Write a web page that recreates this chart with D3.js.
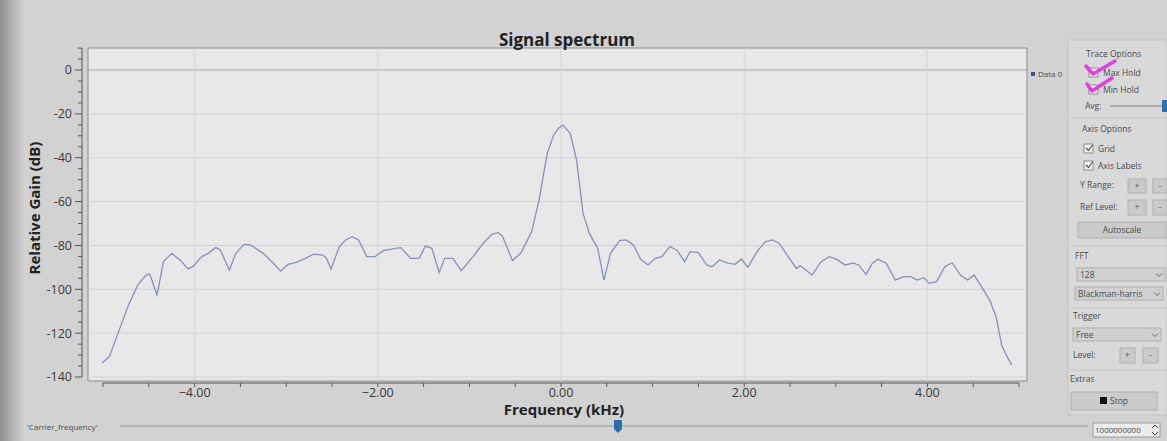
<!DOCTYPE html>
<html>
<head>
<meta charset="utf-8">
<script src="https://cdn.jsdelivr.net/npm/d3@7"></script>
<style>
  body { margin: 0; background: #d2d2d2; }
  svg { display: block; font-family: "Open Sans", "Noto Sans", sans-serif; }
  .tick-label { font-size: 12.5px; fill: #3a3a3a; }
  .panel-text { font-size: 8.5px; fill: #4a4a4a; }
</style>
</head>
<body>
<svg id="chart" width="1167" height="441"></svg>
<script>
// Spectrum trace (kHz, dB)
var freqKHz = [
  -5.01, -4.93, -4.83, -4.72, -4.62, -4.53, -4.49, -4.41, -4.34, -4.25,
  -4.16, -4.07, -4.02, -3.92, -3.85, -3.77, -3.72, -3.62, -3.55, -3.46,
  -3.39, -3.25, -3.14, -3.06, -2.98, -2.89, -2.79, -2.70, -2.60, -2.56,
  -2.51, -2.42, -2.35, -2.28, -2.21, -2.12, -2.03, -1.94, -1.84, -1.75,
  -1.64, -1.55, -1.48, -1.41, -1.33, -1.27, -1.18, -1.09, -0.96, -0.85,
  -0.75, -0.69, -0.64, -0.53, -0.44, -0.32, -0.24, -0.15, -0.08, -0.03,
   0.02,  0.10,  0.17,  0.24,  0.31,  0.40,  0.47,  0.54,  0.64,  0.71,
   0.79,  0.87,  0.95,  1.03,  1.10,  1.19,  1.27,  1.35,  1.41,  1.50,
   1.59,  1.65,  1.73,  1.82,  1.90,  1.97,  2.04,  2.14,  2.23,  2.31,
   2.38,  2.48,  2.57,  2.61,  2.74,  2.84,  2.93,  3.02,  3.10,  3.19,
   3.25,  3.33,  3.40,  3.46,  3.55,  3.65,  3.74,  3.82,  3.89,  3.96,
   4.02,  4.10,  4.19,  4.27,  4.36,  4.44,  4.51,  4.59,  4.68,  4.75,
   4.81,  4.87,  4.92
];
var gainDb = [
  -133.6, -130.7, -119.3, -107.0, -98.0, -93.5, -93.0, -102.6, -87.4, -83.6,
  -86.6, -90.7, -89.7, -85.1, -83.6, -81.0, -82.0, -91.2, -83.6, -79.5,
  -79.8, -83.6, -88.1, -91.7, -88.6, -87.7, -85.9, -84.0, -84.4, -85.9,
  -90.7, -80.5, -77.5, -76.0, -77.5, -85.1, -85.1, -82.4, -81.6, -81.0,
  -85.9, -85.9, -80.3, -81.3, -92.3, -85.9, -85.9, -91.5, -85.1, -79.0,
  -74.8, -74.2, -75.7, -86.9, -83.6, -73.7, -59.3, -38.0, -29.6, -26.6,
  -25.1, -28.9, -41.0, -65.3, -74.5, -81.3, -95.8, -83.6, -77.8, -77.5,
  -79.8, -86.3, -88.9, -85.9, -85.1, -80.5, -82.4, -87.4, -82.8, -83.3,
  -88.9, -89.7, -86.6, -88.1, -88.6, -86.2, -90.0, -82.8, -78.3, -77.5,
  -79.0, -85.1, -90.5, -89.2, -93.5, -87.4, -85.1, -86.6, -88.9, -88.1,
  -88.9, -93.2, -88.1, -86.3, -88.1, -95.8, -94.2, -94.2, -95.8, -94.7,
  -97.3, -96.5, -89.7, -87.9, -93.5, -95.8, -93.5, -98.8, -104.9, -112.5,
  -125.4, -130.7, -134.5
];

var xDomain = [-5, 5];
var yDomain = [-140, 10];
var xMajorTicks = [-4, -2, 0, 2, 4];
var xMinorTicks = d3.range(-5, 5.01, 0.5);
var yMajorTicks = [-140, -120, -100, -80, -60, -40, -20, 0];
var yMinorTicks = d3.range(-140, 10.01, 5);

var titleText = 'Signal spectrum';
var xLabelText = 'Frequency (kHz)';
var yLabelText = 'Relative Gain (dB)';
var legendName = 'Data 0';
var sliderName = "'Carrier_frequency'";
var sliderValue = '1000000000';

var svg = d3.select('#chart');
var W = 1167, H = 441;

// Canvas area of the Qwt plot
var canvas = {left: 88, right: 1027, top: 48, bottom: 381};

var x = d3.scaleLinear().domain(xDomain).range([103, 1019]);
var y = d3.scaleLinear().domain(yDomain).range([377, 48.1]);

// left edge of the photo is darker
var grad = svg.append('defs').append('linearGradient')
    .attr('id', 'edge').attr('x1', 0).attr('x2', 1);
grad.append('stop').attr('offset', 0).attr('stop-color', '#8e8e8e');
grad.append('stop').attr('offset', 1).attr('stop-color', '#d2d2d2');
svg.append('rect').attr('x', 0).attr('y', 0).attr('width', 24).attr('height', H)
    .attr('fill', 'url(#edge)');

svg.append('rect')
    .attr('x', canvas.left).attr('y', canvas.top)
    .attr('width', canvas.right - canvas.left)
    .attr('height', canvas.bottom - canvas.top)
    .attr('fill', '#e8e8e8')
    .attr('stroke', '#8c8c8c')
    .attr('stroke-width', 1);

// grid
svg.append('g').selectAll('line').data(yMajorTicks).enter().append('line')
    .attr('x1', canvas.left).attr('x2', canvas.right)
    .attr('y1', function(d) { return y(d); })
    .attr('y2', function(d) { return y(d); })
    .attr('stroke', function(d) { return d === 0 ? '#a6a6a6' : '#d2d2d2'; })
    .attr('stroke-width', 1);
svg.append('g').selectAll('line').data(xMajorTicks).enter().append('line')
    .attr('x1', function(d) { return x(d); })
    .attr('x2', function(d) { return x(d); })
    .attr('y1', canvas.top).attr('y2', canvas.bottom)
    .attr('stroke', '#d4d4d4')
    .attr('stroke-width', 1);

// x axis
var xAxis = svg.append('g').attr('transform', 'translate(0,383)');
xAxis.append('line').attr('x1', x(xDomain[0])).attr('x2', x(xDomain[1]))
    .attr('stroke', '#555');
xAxis.selectAll('.minor').data(xMinorTicks).enter().append('line')
    .attr('x1', function(d) { return x(d); })
    .attr('x2', function(d) { return x(d); })
    .attr('y1', 0).attr('y2', 4)
    .attr('stroke', '#555');
xAxis.selectAll('text').data(xMajorTicks).enter().append('text')
    .attr('class', 'tick-label')
    .attr('x', function(d) { return x(d); })
    .attr('y', 14)
    .attr('text-anchor', 'middle')
    .text(function(d) { return d3.format('.2f')(d); });

// y axis
var yAxis = svg.append('g').attr('transform', 'translate(82,0)');
yAxis.append('line').attr('y1', y(yDomain[0])).attr('y2', y(yDomain[1]))
    .attr('stroke', '#555');
yAxis.selectAll('.minor').data(yMinorTicks).enter().append('line')
    .attr('y1', function(d) { return y(d); })
    .attr('y2', function(d) { return y(d); })
    .attr('x1', function(d) { return d % 20 === 0 ? -7 : -4; })
    .attr('x2', 0)
    .attr('stroke', '#555');
yAxis.selectAll('text').data(yMajorTicks).enter().append('text')
    .attr('class', 'tick-label')
    .attr('x', -10)
    .attr('y', function(d) { return y(d); })
    .attr('dy', '0.35em')
    .attr('text-anchor', 'end')
    .text(function(d) { return d; });

// the trace
var points = freqKHz.map(function(f, i) { return [f, gainDb[i]]; });
svg.append('path')
    .datum(points)
    .attr('fill', 'none')
    .attr('stroke', '#8790bb')
    .attr('stroke-width', 1.3)
    .attr('d', d3.line()
        .x(function(d) { return x(d[0]); })
        .y(function(d) { return y(d[1]); }));

// titles
svg.append('text').attr('x', 567).attr('y', 46)
    .attr('text-anchor', 'middle')
    .style('font-size', '17px').style('font-weight', 'bold').style('fill', '#222')
    .text(titleText);
svg.append('text').attr('x', 564).attr('y', 415)
    .attr('text-anchor', 'middle')
    .style('font-size', '15px').style('font-weight', 'bold').style('fill', '#222')
    .text(xLabelText);
svg.append('text')
    .attr('transform', 'translate(40,208) rotate(-90)')
    .attr('text-anchor', 'middle')
    .style('font-size', '15px').style('font-weight', 'bold').style('fill', '#222')
    .text(yLabelText);

/**
 * Control panel on the right, drawn with a few small helpers.
 */
var panel = svg.append('g');
panel.append('rect').attr('x', 1068).attr('y', 40).attr('width', 99).attr('height', 375)
    .attr('fill', '#d9d9d9').attr('stroke', '#c2c2c2');

function label(px, py, txt) {
  panel.append('text').attr('class', 'panel-text').attr('x', px).attr('y', py).text(txt);
}
function checkbox(px, py, txt, ticked) {
  panel.append('rect').attr('x', px).attr('y', py - 8).attr('width', 9).attr('height', 9)
      .attr('fill', '#f2f2f2').attr('stroke', '#777').attr('stroke-width', 0.8);
  if (ticked) {
    panel.append('path')
        .attr('d', 'M' + (px + 2) + ',' + (py - 4) + 'l2.5,2.5l4,-5.5')
        .attr('fill', 'none').attr('stroke', '#444').attr('stroke-width', 1.1);
  }
  label(px + 14, py, txt);
}
function button(px, py, w, h, txt) {
  panel.append('rect').attr('x', px).attr('y', py).attr('width', w).attr('height', h)
      .attr('fill', '#cbcbcb').attr('stroke', '#b0b0b0');
  panel.append('text').attr('class', 'panel-text')
      .attr('x', px + w / 2).attr('y', py + h / 2).attr('dy', '0.35em')
      .attr('text-anchor', 'middle').text(txt);
}
function dropdown(px, py, w, h, txt) {
  panel.append('rect').attr('x', px).attr('y', py).attr('width', w).attr('height', h)
      .attr('fill', '#d0d0d0').attr('stroke', '#b0b0b0');
  label(px + 3, py + h - 3.5, txt);
  panel.append('path')
      .attr('d', 'M' + (px + w - 9) + ',' + (py + h / 2 - 1) + 'l3,3l3,-3')
      .attr('fill', 'none').attr('stroke', '#666');
}
function sectionLine(py) {
  panel.append('line').attr('x1', 1070).attr('x2', 1167).attr('y1', py).attr('y2', py)
      .attr('stroke', '#c6c6c6');
}

label(1086, 57, 'Trace Options');
checkbox(1089, 76, 'Max Hold', false);
checkbox(1089, 93, 'Min Hold', false);
label(1085, 109, 'Avg:');
panel.append('line').attr('x1', 1110).attr('x2', 1163).attr('y1', 106).attr('y2', 106)
    .attr('stroke', '#aaa').attr('stroke-width', 2);
panel.append('rect').attr('x', 1162).attr('y', 100).attr('width', 5).attr('height', 12)
    .attr('fill', '#2d6fb0');
sectionLine(118);

label(1082, 132, 'Axis Options');
checkbox(1084, 152, 'Grid', true);
checkbox(1084, 169, 'Axis Labels', true);
label(1080, 188, 'Y Range:');
button(1128, 179, 18, 14, '+');
button(1153, 179, 14, 14, '-');
label(1080, 210, 'Ref Level:');
button(1128, 200, 18, 15, '+');
button(1153, 200, 14, 15, '-');
button(1078, 222, 88, 16, 'Autoscale');
sectionLine(246);

label(1075, 259, 'FFT');
dropdown(1077, 268, 88, 13, '128');
dropdown(1075, 287, 88, 13, 'Blackman-harris');
sectionLine(308);

label(1073, 319, 'Trigger');
dropdown(1073, 328, 88, 13, 'Free');
label(1073, 358, 'Level:');
button(1120, 348, 15, 15, '+');
button(1143, 348, 15, 15, '-');
sectionLine(370);

label(1070, 382, 'Extras');
button(1071, 392, 86, 18, '');
panel.append('rect').attr('x', 1100).attr('y', 397).attr('width', 7).attr('height', 7)
    .attr('fill', '#111');
label(1110, 404, 'Stop');

// legend, drawn after the panel so it is not covered
svg.append('rect').attr('x', 1031).attr('y', 72).attr('width', 4).attr('height', 4)
    .attr('fill', '#3f4fa0');
svg.append('text').attr('class', 'panel-text').attr('x', 1038).attr('y', 77)
    .style('font-size', '8px')
    .text(legendName);

// hand-drawn pink ticks over the trace options
svg.append('path').attr('d', 'M1086,66 L1093,74 L1115,61')
    .attr('fill', 'none').attr('stroke', '#e33ce0').attr('stroke-width', 3.5)
    .attr('stroke-linecap', 'round').attr('stroke-linejoin', 'round');
svg.append('path').attr('d', 'M1087,84 L1092,91 L1112,78')
    .attr('fill', 'none').attr('stroke', '#e33ce0').attr('stroke-width', 3.5)
    .attr('stroke-linecap', 'round').attr('stroke-linejoin', 'round');

// carrier frequency slider along the bottom
svg.append('text').attr('class', 'panel-text').attr('x', 27).attr('y', 430)
    .style('font-size', '8px').text(sliderName);
svg.append('line').attr('x1', 120).attr('x2', 1088).attr('y1', 426).attr('y2', 426)
    .attr('stroke', '#b4b4b4').attr('stroke-width', 2);
svg.append('path').attr('d', 'M614,420 h8 v9 l-4,4 l-4,-4 z').attr('fill', '#2a6cae');
svg.append('rect').attr('x', 1093).attr('y', 423).attr('width', 67).attr('height', 14)
    .attr('fill', '#ececec').attr('stroke', '#999');
svg.append('text').attr('class', 'panel-text').attr('x', 1095).attr('y', 433)
    .style('font-size', '8px').text(sliderValue);
svg.append('path').attr('d', 'M1152,428 l3,-3 l3,3 M1152,432 l3,3 l3,-3')
    .attr('fill', 'none').attr('stroke', '#444');
</script>
</body>
</html>
